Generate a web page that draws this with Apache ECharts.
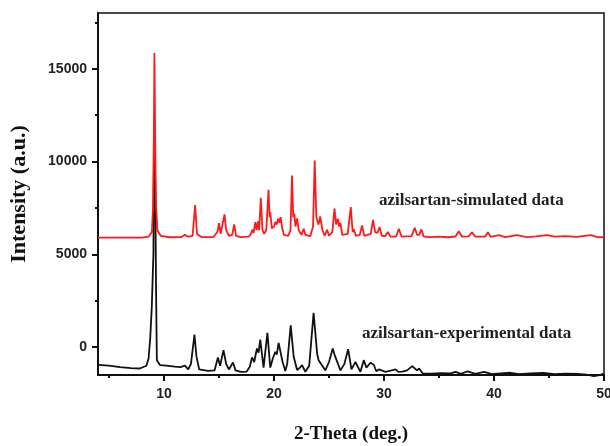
<!DOCTYPE html>
<html>
<head>
<meta charset="utf-8">
<script src="https://cdn.jsdelivr.net/npm/echarts@6/dist/echarts.min.js"></script>
<style>
html,body{margin:0;padding:0;background:#fff;}
#chart{width:610px;height:446px;}
</style>
</head>
<body>
<div id="chart"></div>
<script>
// x tick labels / y tick labels
var xMajorTicks = [10, 20, 30, 40, 50];
var xMinorTicks = [5, 15, 25, 35, 45];
var yMajorTicks = [0, 5000, 10000, 15000];
var yMinorTicks = [2500, 7500, 12500, 17500];

var simulatedName = 'azilsartan-simulated data';
var experimentalName = 'azilsartan-experimental data';

// [2-theta, intensity]
var simulated = [
[4,5900],[8.0,5900],[8.6,5950],[8.9,6200],[9.0,7500],[9.08,11500],[9.13,15850],[9.2,11000],[9.28,7600],[9.4,6300],[9.7,6000],[10.5,5920],
[11.6,5930],[11.9,6050],[12.2,5950],[12.6,6000],[12.83,7650],[13.0,6100],[13.4,5930],[14.5,5930],[14.85,6200],[15.0,6680],[15.15,6100],
[15.3,6200],[15.5,7150],[15.65,6300],[15.75,6350],[15.9,6000],[16.2,6050],[16.39,6610],[16.55,6000],[17.0,5930],[17.7,5950],[17.9,6100],
[18.05,6330],[18.15,6150],[18.3,6740],[18.42,6300],[18.54,6770],[18.65,6300],[18.8,8050],[18.95,6300],[19.1,6100],[19.3,6300],[19.5,8480],
[19.6,7000],[19.66,7280],[19.8,6400],[20.0,6500],[20.12,6740],[20.25,6600],[20.37,6920],[20.5,6700],[20.6,7010],[20.75,6400],[20.9,6050],
[21.3,6000],[21.5,6300],[21.64,9250],[21.75,7000],[21.85,7190],[21.95,6500],[22.1,6940],[22.25,6300],[22.5,6050],[22.7,6380],[22.85,6050],
[23.3,5980],[23.55,6500],[23.7,10050],[23.85,7000],[24.05,6600],[24.2,7040],[24.4,6300],[24.6,6000],[24.83,6330],[25.0,6000],[25.3,6200],
[25.5,7460],[25.65,6600],[25.8,6920],[25.92,6500],[26.04,6700],[26.2,6050],[26.7,6100],[26.98,7540],[27.15,6200],[27.25,6350],[27.45,6000],
[27.8,6050],[28.0,6560],[28.2,6000],[28.8,6100],[29.0,6860],[29.2,6200],[29.4,6150],[29.6,6470],[29.8,6000],[30.1,5980],[30.35,6200],
[30.6,5950],[31.1,5960],[31.35,6380],[31.6,5950],[32.5,5980],[32.8,6430],[33.0,6050],[33.2,6050],[33.4,6340],[33.6,5960],[34.2,5930],
[35.0,5950],[35.8,5920],[36.5,5960],[36.8,6240],[37.1,5950],[37.7,5970],[38.0,6190],[38.3,5950],[39.2,5960],[39.45,6190],[39.7,5940],
[40.45,6030],[41.0,5930],[42.1,6030],[43.0,5930],[43.8,5970],[44.85,6030],[45.5,5950],[46.5,5980],[47.5,5940],[48.8,6030],[49.4,5930],[50,5920]
];

var experimental = [
[4,-950],[5,-1000],[6,-1080],[7,-1130],[7.8,-1150],[8.4,-1000],[8.6,-600],[8.75,500],[8.89,2170],[9.04,5050],[9.1,11670],[9.2,9000],
[9.28,3000],[9.35,-700],[9.65,-970],[10.2,-1000],[11.0,-1050],[11.5,-1080],[11.9,-1000],[12.2,-1200],[12.45,-900],[12.77,680],[12.95,-500],
[13.2,-1200],[14.0,-1280],[14.6,-1250],[14.9,-555],[15.1,-1000],[15.41,-160],[15.65,-900],[15.9,-1200],[16.27,-825],[16.5,-1250],[17.0,-1330],
[17.5,-1320],[17.8,-1050],[18.0,-555],[18.2,-800],[18.45,-70],[18.6,-300],[18.75,410],[19.05,-1100],[19.4,770],[19.66,-1100],[19.9,-600],
[20.12,-250],[20.25,-400],[20.42,230],[20.78,-800],[21.03,-1280],[21.2,-900],[21.52,1180],[21.79,-520],[22.1,-1230],[22.35,-1100],[22.55,-970],
[22.85,-1330],[23.2,-1000],[23.6,1850],[23.92,-340],[24.05,-700],[24.22,-650],[24.67,-1250],[25.0,-800],[25.34,-70],[25.5,-400],[25.65,-300],
[26.04,-1250],[26.4,-900],[26.74,-110],[27.04,-1200],[27.4,-800],[27.86,-1330],[28.16,-700],[28.4,-1100],[28.77,-840],[29.07,-950],[29.3,-1300],
[29.53,-1200],[30.14,-1330],[30.6,-1270],[31.05,-1200],[31.3,-1330],[31.66,-1320],[32.1,-1250],[32.57,-1020],[33.0,-1250],[33.2,-1150],
[33.5,-1410],[34.3,-1430],[35.2,-1400],[36.0,-1420],[36.5,-1330],[37.0,-1440],[37.6,-1300],[38.3,-1440],[39.1,-1330],[39.8,-1450],[40.6,-1410],
[41.5,-1380],[42.3,-1450],[43.3,-1420],[44.5,-1390],[45.5,-1450],[46.5,-1430],[47.6,-1440],[48.4,-1480],[49.1,-1560],[49.6,-1500],[50,-1420]
];

var chart = echarts.init(document.getElementById('chart'));
var labelFont = {color:'#222', fontFamily:'Liberation Sans, Arial, sans-serif', fontWeight:'bold', fontSize:14};
var nameFont = {color:'#111', fontFamily:'Liberation Serif, Times New Roman, serif', fontWeight:'bold'};
var plain = function (v) { return String(v); };

chart.setOption({
  animation:false,
  backgroundColor:'#fff',
  grid:{left:98, right:6, top:13, bottom:71, outerBoundsMode:'none', containLabel:false,
        show:true, borderColor:'#111', borderWidth:1.5, backgroundColor:'transparent'},
  xAxis:[{
    type:'value', min:4, max:50, position:'bottom',
    name:'2-Theta (deg.)', nameLocation:'middle', nameGap:50,
    nameTextStyle:Object.assign({fontSize:19}, nameFont),
    axisLine:{show:true, onZero:false, lineStyle:{color:'#111', width:2}},
    axisTick:{show:true, inside:false, length:6, customValues:xMajorTicks, lineStyle:{color:'#111', width:2}},
    axisLabel:Object.assign({customValues:xMajorTicks, margin:12, formatter:plain}, labelFont),
    splitLine:{show:false}
  },{
    type:'value', min:4, max:50, position:'bottom',
    axisLine:{show:false, onZero:false},
    axisTick:{show:true, inside:false, length:3, customValues:xMinorTicks, lineStyle:{color:'#111', width:2}},
    axisLabel:{show:false},
    splitLine:{show:false}
  }],
  yAxis:[{
    type:'value', min:-1500, max:18000, position:'left',
    name:'Intensity (a.u.)', nameLocation:'middle', nameGap:68,
    nameTextStyle:Object.assign({fontSize:22}, nameFont),
    axisLine:{show:true, onZero:false, lineStyle:{color:'#111', width:2}},
    axisTick:{show:true, inside:false, length:6, customValues:yMajorTicks, lineStyle:{color:'#111', width:2}},
    axisLabel:Object.assign({customValues:yMajorTicks, margin:11, formatter:plain}, labelFont),
    splitLine:{show:false}
  },{
    type:'value', min:-1500, max:18000, position:'left',
    axisLine:{show:false, onZero:false},
    axisTick:{show:true, inside:false, length:3, customValues:yMinorTicks, lineStyle:{color:'#111', width:2}},
    axisLabel:{show:false},
    splitLine:{show:false}
  }],
  graphic:[
    {type:'text', left:379, top:192, style:{text:simulatedName, font:'bold 17px "Liberation Serif", serif', fill:'#222'}},
    {type:'text', left:362, top:325, style:{text:experimentalName, font:'bold 17px "Liberation Serif", serif', fill:'#222'}}
  ],
  series:[
    {name:experimentalName, type:'line', xAxisIndex:0, yAxisIndex:0, data:experimental, showSymbol:false, symbol:'none',
     clip:false, lineStyle:{color:'#111', width:1.8}, z:2},
    {name:simulatedName, type:'line', xAxisIndex:0, yAxisIndex:0, data:simulated, showSymbol:false, symbol:'none',
     clip:false, lineStyle:{color:'#ff1a1a', width:1.8}, z:3}
  ]
});
</script>
</body>
</html>
